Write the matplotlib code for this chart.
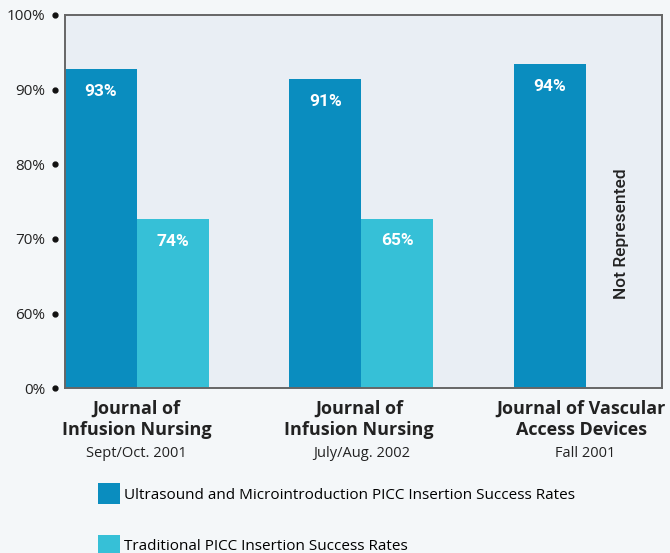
import matplotlib
matplotlib.use("Agg")
import matplotlib.pyplot as plt
import matplotlib.transforms as mtransforms
from matplotlib.patches import Patch
import numpy as np

# bar heights as drawn on the (broken) axis, and the printed labels
journals = ["Journal of\nInfusion Nursing", "Journal of\nInfusion Nursing", "Journal of Vascular\nAccess Devices"]
dates = ["Sept/Oct. 2001", "July/Aug. 2002", "Fall 2001"]
ultrasound_heights = [92.7, 91.4, 93.4]
ultrasound_labels = ["93%", "91%", "94%"]
traditional_heights = [72.6, 72.7, None]
traditional_labels = ["74%", "65%", None]
yticks = [0, 60, 70, 80, 90, 100]
series_names = ["Ultrasound and Microintroduction PICC Insertion Success Rates",
                "Traditional PICC Insertion Success Rates"]

DARK = "#0a8dbf"
LIGHT = "#36c0d7"
FIG_BG = "#f4f7f9"
AX_BG = "#e9eef4"
NARROW = ["Roboto", "DejaVu Sans"]
MAIN = ["Open Sans", "DejaVu Sans"]


# 0-60 squeezed into one step, then 10 points per step
def fwd(v):
    v = np.asarray(v, dtype=float)
    return np.where(v <= 60, v / 60.0, 1 + (v - 60) / 10.0)


def inv(p):
    p = np.asarray(p, dtype=float)
    return np.where(p <= 1, p * 60.0, 60 + (p - 1) * 10.0)


fig = plt.figure(figsize=(6.7, 5.53), dpi=100, facecolor=FIG_BG)
ax = fig.add_axes([0.097, 0.298, 0.891, 0.675])
ax.set_facecolor(AX_BG)
ax.set_yscale("function", functions=(fwd, inv))

w = 0.32
x = np.arange(len(journals))
axes_y = ax.get_xaxis_transform()

for i in range(len(journals)):
    ax.bar(x[i] - w / 2, ultrasound_heights[i], width=w, color=DARK, zorder=2)
    ax.annotate(ultrasound_labels[i], (x[i] - w / 2, ultrasound_heights[i]),
                xytext=(0, -16), textcoords="offset points", ha="center", va="center",
                color="white", fontsize=12.5, fontweight="bold", family=NARROW, zorder=3)
    if traditional_heights[i] is not None:
        ax.bar(x[i] + w / 2, traditional_heights[i], width=w, color=LIGHT, zorder=2)
        ax.annotate(traditional_labels[i], (x[i] + w / 2, traditional_heights[i]),
                    xytext=(0, -16), textcoords="offset points", ha="center", va="center",
                    color="white", fontsize=12.5, fontweight="bold", family=NARROW, zorder=3)
    else:
        ax.text(x[i] + w / 2, 0.415, "Not Represented", rotation=90, ha="center", va="center",
                fontsize=12.5, fontweight="medium", family=NARROW, color="#222222",
                transform=axes_y)

ax.set_xlim(-w, 2.34)
ax.set_ylim(0, 100)
ax.set_yticks(yticks)
ax.set_yticklabels([f"{t}%" for t in yticks], family=MAIN, fontsize=11, color="#222222")
ax.tick_params(axis="y", length=0, pad=14)
ax.set_xticks([])

# dot markers beside each tick label
ax.plot([-0.016] * len(yticks), yticks, "o", color="#111111", markersize=3.5,
        transform=ax.get_yaxis_transform(), clip_on=False)

for s in ax.spines.values():
    s.set_color("#666666")
    s.set_linewidth(1.4)

# category labels under each pair
trans = mtransforms.blended_transform_factory(ax.transData, fig.transFigure)
for i in range(len(journals)):
    ax.text(x[i] - 0.01 * i, 0.277, journals[i], transform=trans, ha="center", va="top",
            fontsize=13, fontweight="bold", family=MAIN, color="#222222", linespacing=1.2)
    ax.text(x[i], 0.193, dates[i], transform=trans, ha="center", va="top",
            fontsize=10.5, family=MAIN, color="#222222")

handles = [Patch(facecolor=DARK), Patch(facecolor=LIGHT)]
fig.legend(handles, series_names, loc="upper left", bbox_to_anchor=(0.146, 0.126),
           frameon=False, handlelength=1.45, handleheight=1.7,
           handletextpad=0.25, labelspacing=2.0, borderaxespad=0, borderpad=0,
           prop={"family": MAIN, "size": 11})

fig.savefig("out.png", dpi=100, facecolor=FIG_BG)
